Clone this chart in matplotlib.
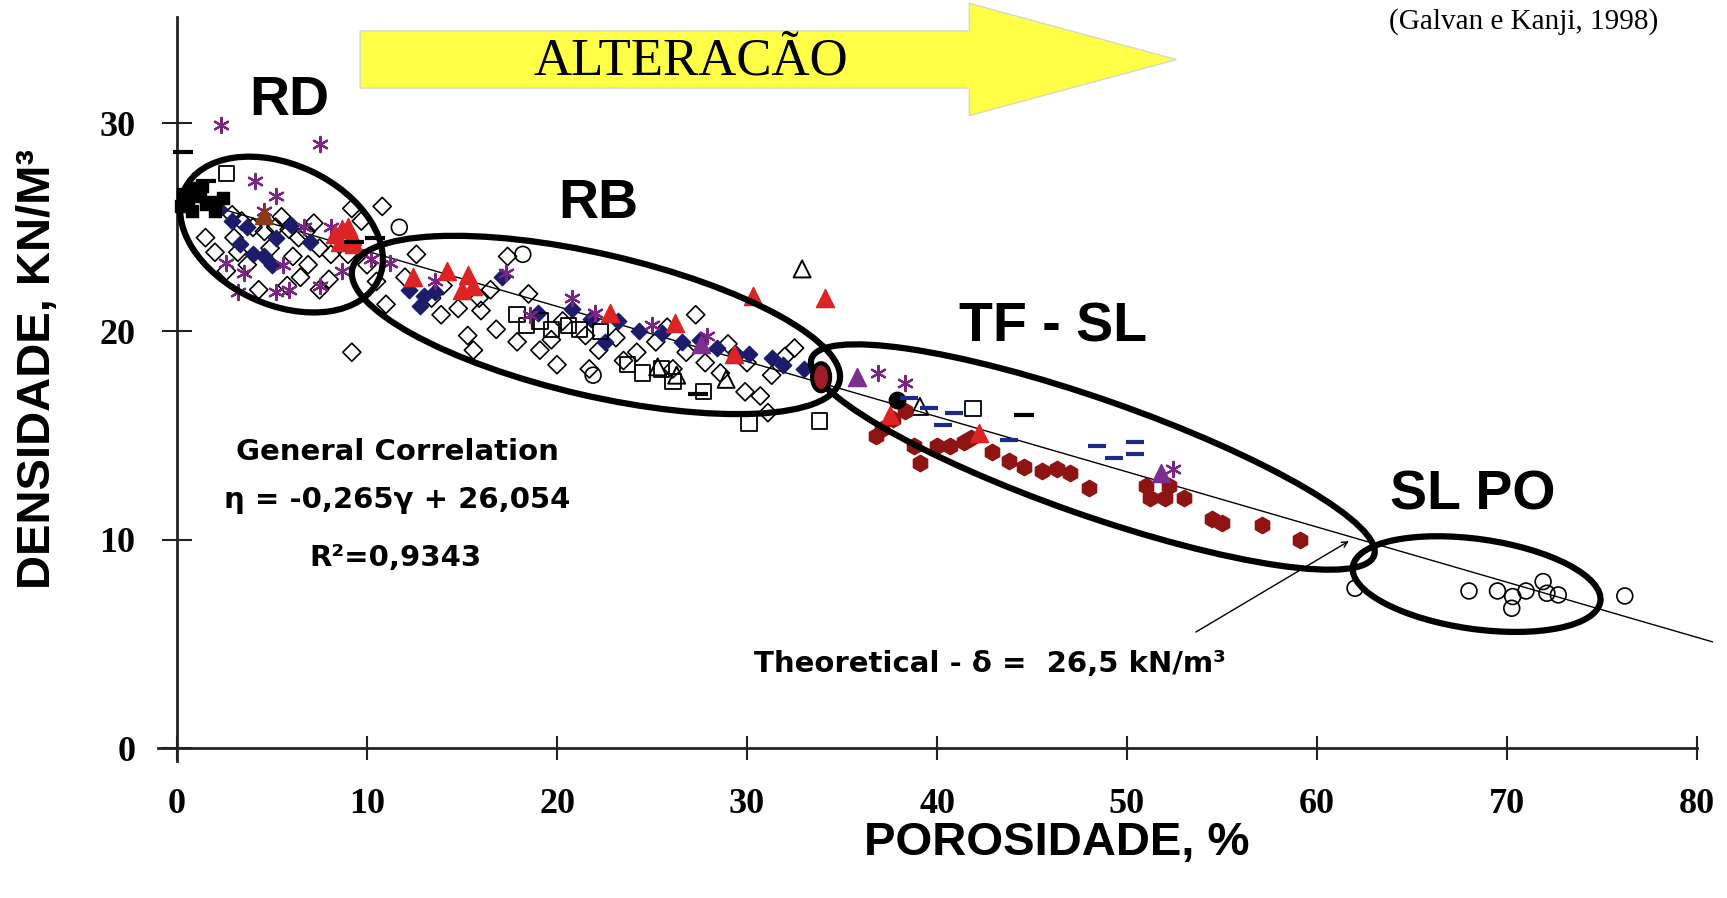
import numpy as np
import matplotlib.pyplot as plt
from matplotlib.patches import Ellipse, Polygon
from matplotlib.transforms import Affine2D

# ---- data (porosity %, density kN/m3) ----
diamond_x = [2.9, 3.4, 4.0, 4.6, 5.2, 5.9, 6.4, 6.8, 7.5, 8.1, 3.2, 3.7, 2.0, 2.6, 4.3, 5.8,
             7.5, 9.0, 9.2, 9.7, 10.8, 9.2, 4.9, 6.1, 6.9, 7.2, 5.5, 3.0, 8.0, 1.5, 6.5, 10.0,
             10.5, 12.6, 17.4, 11.0, 13.4, 13.9, 15.9, 15.3, 15.6, 17.9, 19.1, 20.0, 21.7,
             19.7, 22.2, 23.1, 25.2, 27.3, 31.3, 32.5, 29.9, 30.7, 31.1, 27.8, 26.1, 16.8,
             14.8, 16.5, 20.3, 18.5, 21.5, 24.2, 25.8, 28.6, 29.0, 12.0, 14.0, 16.0, 23.5,
             26.8, 30.0, 32.0]
diamond_y = [25.6, 25.3, 25.0, 24.8, 25.0, 24.9, 24.5, 24.8, 24.0, 23.7, 23.8, 23.2, 23.8, 22.9,
             22.0, 22.2, 22.0, 23.7, 25.9, 25.3, 26.0, 19.0, 24.0, 23.6, 23.2, 25.2, 25.5, 24.5,
             22.5, 24.5, 22.6, 23.2, 22.4, 23.7, 23.6, 21.3, 21.6, 20.8, 21.6, 19.8, 19.1, 19.5,
             19.1, 18.4, 18.2, 19.6, 19.1, 19.7, 19.5, 20.8, 17.9, 19.2, 17.1, 16.9, 16.1, 18.5,
             18.2, 20.1, 21.1, 22.0, 20.5, 21.8, 19.8, 19.0, 20.2, 18.0, 19.4, 22.6, 22.2, 21.0,
             18.6, 19.0, 18.5, 18.8]

navy_x = [4.0, 4.6, 5.2, 3.7, 2.9, 6.0, 5.0, 3.3, 7.0, 2.2, 12.2, 13.0, 13.6, 12.8, 17.1, 20.8,
          21.8, 23.2, 24.3, 25.5, 26.6, 27.5, 28.4, 29.4, 30.1, 31.3, 31.9, 33.0, 22.5, 19.0]
navy_y = [23.7, 23.6, 24.5, 25.0, 25.3, 25.1, 23.2, 24.2, 24.3, 25.9, 22.0, 21.7, 21.9, 21.2, 22.6,
          21.1, 20.6, 20.5, 20.0, 19.9, 19.5, 19.6, 19.2, 18.9, 18.9, 18.7, 18.4, 18.2, 19.5, 20.9]

star_x = [2.3, 7.5, 4.1, 5.2, 2.6, 3.5, 5.6, 5.9, 5.2, 7.5, 8.7, 8.1, 4.6, 6.7, 3.2, 10.2, 11.2,
          13.6, 17.3, 20.8, 18.6, 22.0, 25.0, 27.9, 36.9, 38.3, 52.4]
star_y = [29.9, 29.0, 27.2, 26.5, 23.3, 22.8, 23.2, 22.0, 21.9, 22.2, 22.9, 25.0, 25.8, 25.0, 21.9,
          23.5, 23.3, 22.4, 22.8, 21.6, 20.8, 20.9, 20.3, 19.8, 18.0, 17.5, 13.4]

red_tri_x = [8.3, 8.7, 9.2, 8.6, 9.3, 9.0, 12.4, 14.2, 15.3, 15.6, 15.0, 22.8, 26.2, 30.3, 34.1,
             29.3, 42.2, 37.5]
red_tri_y = [24.7, 24.9, 24.6, 24.3, 24.2, 25.0, 22.6, 22.9, 22.7, 22.2, 22.0, 20.9, 20.4, 21.7,
             21.6, 18.9, 15.1, 16.0]

brown_tri_x = [4.6]
brown_tri_y = [25.6]

purple_tri_x = [35.8, 51.8, 27.6]
purple_tri_y = [17.8, 13.2, 19.4]

square_x = [17.9, 18.4, 19.1, 19.7, 20.6, 21.2, 22.3, 25.5, 26.1, 23.7, 27.7, 30.1, 33.8, 41.9,
            2.6, 24.5]
square_y = [20.8, 20.3, 20.5, 20.1, 20.3, 20.1, 20.0, 18.2, 17.6, 18.4, 17.1, 15.6, 15.7, 16.3,
            27.6, 18.0]

open_tri_x = [32.9, 39.1, 26.3, 28.9, 25.3]
open_tri_y = [23.0, 16.4, 17.9, 17.7, 18.3]

circle_x = [62.0, 68.0, 69.5, 70.3, 70.25, 71.0, 71.9, 72.1, 72.7, 76.2, 11.7, 18.2, 21.9]
circle_y = [7.67, 7.54, 7.54, 7.27, 6.71, 7.54, 7.99, 7.43, 7.35, 7.30, 25.0, 23.7, 17.9]

hex_x = [37.1, 37.7, 38.3, 38.8, 39.1, 40.0, 40.7, 41.4, 42.9, 43.8, 44.6, 45.5, 46.3, 47.0,
         48.0, 51.0, 51.2, 52.0, 53.0, 52.2, 54.5, 55.0, 57.1, 59.1, 36.8, 41.8]
hex_y = [15.3, 15.8, 16.2, 14.5, 13.7, 14.5, 14.5, 14.7, 14.2, 13.8, 13.5, 13.3, 13.4, 13.2,
         12.5, 12.6, 12.0, 12.0, 12.0, 12.6, 11.0, 10.8, 10.7, 10.0, 15.0, 14.9]

black_dash_x = [0.3, 1.5, 9.3, 10.4, 44.6, 27.4, 1.0]
black_dash_y = [28.6, 27.2, 24.3, 24.5, 16.0, 17.0, 27.0]

blue_dash_x = [39.6, 40.3, 40.9, 43.8, 48.4, 49.3, 50.4, 50.4, 38.5]
blue_dash_y = [16.3, 15.5, 16.1, 14.8, 14.5, 13.9, 14.7, 14.1, 16.8]

black_sq_x = [0.3, 0.6, 0.9, 1.2, 0.5, 1.5, 1.9, 2.0, 0.8, 1.3, 0.2, 2.4]
black_sq_y = [26.6, 26.4, 26.9, 26.5, 26.1, 26.1, 26.2, 25.8, 25.8, 27.0, 26.0, 26.4]

black_dot_x = [37.9]
black_dot_y = [16.7]

# theoretical line (delta = 26,5 kN/m3)
theo_x = [0.0, 80.8]
theo_y = [26.5, 5.1]

x_ticks = [0, 10, 20, 30, 40, 50, 60, 70, 80]
y_ticks = [0, 10, 20, 30]

# pixels per data unit in the output image
PX_X = 19.0
PX_Y = 20.83

fig = plt.figure(figsize=(17.27, 8.98), dpi=100)
ax = fig.add_axes([0.08929, 0.15078, 0.90984, 0.83274])
ax.set_xlim(-1.2, 81.5)
ax.set_ylim(-0.7, 35.2)

for s in ['top', 'right']:
    ax.spines[s].set_visible(False)
ax.spines['left'].set_position(('data', 0))
ax.spines['bottom'].set_position(('data', 0))
ax.spines['left'].set_bounds(-0.6, 35.1)
ax.spines['bottom'].set_bounds(-1.0, 80)
ax.spines['left'].set_linewidth(2)
ax.spines['bottom'].set_linewidth(2)
ax.spines['left'].set_color('#222222')
ax.spines['bottom'].set_color('#222222')

ax.set_xticks(x_ticks)
ax.set_yticks(y_ticks)
tick_font = dict(family='Liberation Serif', weight='bold', size=26)
ax.set_xticklabels([str(t) for t in x_ticks], fontdict=tick_font)
ax.set_yticklabels([str(t) for t in y_ticks], fontdict=tick_font)
ax.tick_params(axis='x', direction='inout', length=17, width=1.5, pad=20, color='#222222')
ax.tick_params(axis='y', direction='inout', length=22, width=1.5, pad=19, color='#222222')

ax.set_xlabel('POROSIDADE, %', family='Liberation Sans', weight='bold', size=34, va='center')
ax.xaxis.set_label_coords(0.5746, -0.1075)
ax.set_ylabel('DENSIDADE, KN/M³', family='Liberation Sans', weight='bold', size=34, va='center')
ax.yaxis.set_label_coords(-0.074, 0.5263)

# theoretical line
ax.plot(theo_x, theo_y, color='black', lw=1.0, zorder=2)

# data points
ax.scatter(diamond_x, diamond_y, marker='D', s=85, facecolors='none', edgecolors='black',
           linewidths=1.2, zorder=3)
ax.scatter(navy_x, navy_y, marker='D', s=70, color='#1c1c6b', zorder=3)
ax.scatter(star_x, star_y, marker=(6, 2, 0), s=120, color='#7b2582', linewidths=1.6, zorder=4)
ax.scatter(square_x, square_y, marker='s', s=120, facecolors='none', edgecolors='black',
           linewidths=1.3, zorder=3)
ax.scatter(open_tri_x, open_tri_y, marker='^', s=150, facecolors='none', edgecolors='black',
           linewidths=1.4, zorder=3)
ax.scatter(circle_x, circle_y, marker='o', s=130, facecolors='none', edgecolors='black',
           linewidths=1.2, zorder=3)
ax.scatter(hex_x, hex_y, marker='h', s=140, color='#8e1414', zorder=4)
ax.scatter(red_tri_x, red_tri_y, marker='^', s=170, color='#dd2323', zorder=4)
ax.scatter(brown_tri_x, brown_tri_y, marker='^', s=170, color='#8a3a16', zorder=4)
ax.scatter(purple_tri_x, purple_tri_y, marker='^', s=170, color='#7d2e8e', zorder=4)
ax.scatter(black_sq_x, black_sq_y, marker='s', s=70, color='black', zorder=4)
ax.scatter(black_dot_x, black_dot_y, marker='o', s=140, color='black', zorder=4)
ax.scatter(black_dash_x, black_dash_y, marker='_', s=220, color='black', linewidths=3, zorder=4)
ax.scatter(blue_dash_x, blue_dash_y, marker='_', s=150, color='#1e2a8a', linewidths=3, zorder=4)


# group ellipses, sizes in output pixels
def ring(cx, cy, a, b, ang, lw=4.5, fc='none'):
    tr = Affine2D().scale(1 / PX_X, 1 / PX_Y).translate(cx, cy) + ax.transData
    e = Ellipse((0, 0), 2 * a, 2 * b, angle=ang, transform=tr, facecolor=fc,
                edgecolor='black', lw=lw, zorder=5)
    ax.add_patch(e)


ring(5.5, 24.65, 107, 70, -25)
ring(22.05, 20.31, 250, 71, -13)
ring(48.2, 13.97, 298, 58, -19.3)
ring(68.4, 7.87, 125, 45, -8)
ring(33.9, 17.8, 9, 14, 0, lw=3, fc='#a01c2a')

# region labels
lab = dict(family='Liberation Sans', weight='bold', size=40, ha='center', va='center')
ax.text(5.9, 31.06, 'RD', **lab)
ax.text(22.2, 26.1, 'RB', **lab)
ax.text(46.1, 20.2, 'TF - SL', **lab)
ax.text(68.2, 12.1, 'SL PO', **lab)

small = dict(family='DejaVu Sans', weight='bold', size=21, ha='center', va='center')
ax.text(11.6, 14.2, 'General Correlation', **small)
ax.text(11.6, 11.9, 'η = -0,265γ + 26,054', **small)
ax.text(11.5, 9.12, 'R²=0,9343', **small)
ax.text(42.8, 4.03, 'Theoretical - δ =  26,5 kN/m³', **small)
ax.annotate('', xy=(61.8, 10.0), xytext=(53.5, 5.5),
            arrowprops=dict(arrowstyle='->', lw=1.0, color='black'))

# "alteração" arrow
arrow = Polygon([[9.64, 31.68], [41.7, 31.68], [41.7, 30.36], [52.6, 33.05],
                 [41.7, 35.75], [41.7, 34.43], [9.64, 34.43]],
                closed=True, facecolor='#ffff47', edgecolor='#d8d8c8', lw=1,
                clip_on=False, zorder=1)
ax.add_patch(arrow)
ax.text(27.05, 32.95, 'ALTERACÃO', family='Liberation Serif', size=38,
        ha='center', va='center', zorder=2)

fig.text(0.960, 0.9755, '(Galvan e Kanji, 1998)', family='Liberation Serif', size=21,
         ha='right', va='center')

fig.savefig('out.png', dpi=100, facecolor='white')
